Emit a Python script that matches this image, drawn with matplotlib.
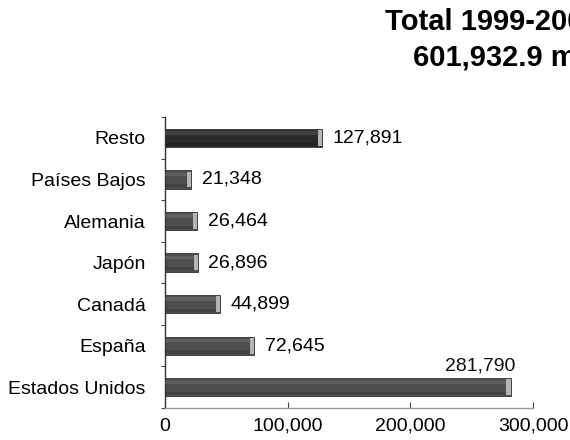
import numpy as np
import matplotlib.pyplot as plt
from matplotlib.ticker import FixedLocator, FuncFormatter

plt.rcParams['font.family'] = ['Liberation Sans', 'DejaVu Sans']

# data (bottom to top)
paises = ["Estados Unidos", "España", "Canadá", "Japón", "Alemania", "Países Bajos", "Resto"]
valores = [281790, 72645, 44899, 26896, 26464, 21348, 127891]
titulo = "Total 1999-2005"
subtitulo = "601,932.9 mdd"

fig = plt.figure(figsize=(5.7, 4.4), dpi=100)
ax = fig.add_axes([0.2895, 0.0727, 0.6456, 0.661])

y = np.arange(len(paises))
colores = ["#4e4e4e"] * (len(paises) - 1) + ["#2a2a2a"]

# bars with a light cylinder-like shading
ax.barh(y, valores, height=0.44, color=colores, edgecolor="#333333", linewidth=0.6, zorder=2)
ax.barh(y + 0.12, valores, height=0.08, color="white", alpha=0.10, linewidth=0, zorder=3)
ax.barh(y - 0.15, valores, height=0.08, color="black", alpha=0.15, linewidth=0, zorder=3)
for yi, v in zip(y, valores):
    ax.barh(yi, 3500, left=v - 3500, height=0.38, color="#b5b5b5", linewidth=0, zorder=4)

# value labels
for yi, v in zip(y, valores):
    txt = f"{v:,}"
    if v > 250000:
        ax.text(v + 4000, yi + 0.5, txt, ha="right", va="center", fontsize=14, color="#111111")
    else:
        ax.text(v + 8500, yi, txt, ha="left", va="center", fontsize=14, color="black")

ax.set_xlim(0, 300000)
ax.set_ylim(-0.5, len(paises) - 0.5)
ax.set_xticks([0, 100000, 200000, 300000])
ax.xaxis.set_major_formatter(FuncFormatter(lambda v, p: f"{int(v):,}"))
ax.set_yticks(y)
ax.set_yticklabels(paises)
ax.yaxis.set_minor_locator(FixedLocator(np.arange(-0.5, len(paises), 1.0)))

ax.tick_params(axis="y", which="major", length=0, pad=14, labelsize=14, labelcolor="black")
ax.tick_params(axis="y", which="minor", length=3, color="#444444", width=0.8)
ax.tick_params(axis="x", which="major", direction="in", length=4, color="#444444",
               pad=7, labelsize=14, labelcolor="black")

for s in ["top", "right"]:
    ax.spines[s].set_visible(False)
ax.spines["left"].set_color("#333333")
ax.spines["left"].set_linewidth(1.0)
ax.spines["bottom"].set_color("#999999")
ax.spines["bottom"].set_linestyle((0, (1, 1)))
ax.spines["bottom"].set_linewidth(1.0)

# title runs past the right edge, as in the scanned original
fig.text(385 / 570, 1 - 22 / 440, titulo, ha="left", va="center", fontsize=21, fontweight="bold")
fig.text(413 / 570, 1 - 58 / 440, subtitulo, ha="left", va="center", fontsize=21, fontweight="bold")

fig.savefig("out.png", dpi=100)
